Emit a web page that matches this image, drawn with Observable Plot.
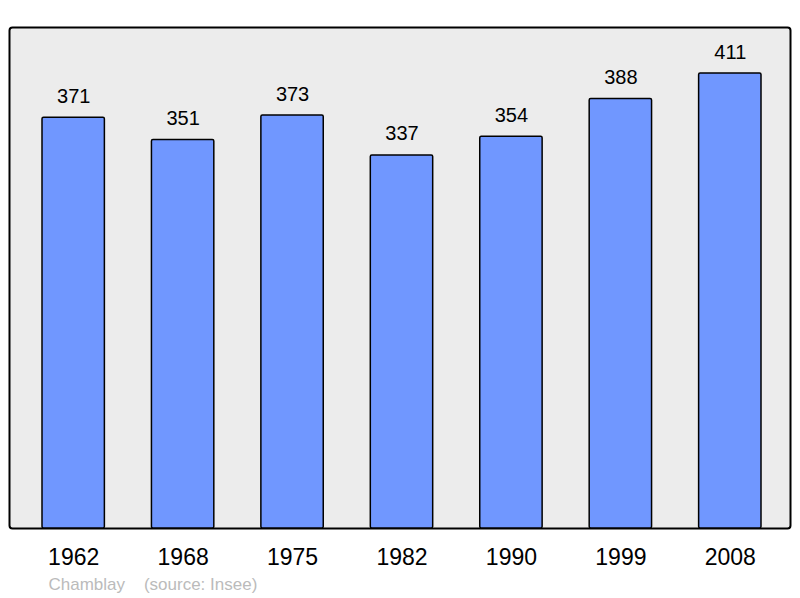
<!DOCTYPE html>
<html>
<head>
<meta charset="utf-8">
<script src="https://cdn.jsdelivr.net/npm/d3@7"></script>
<script src="https://cdn.jsdelivr.net/npm/@observablehq/plot@0.6"></script>
<style>
  html, body { margin: 0; padding: 0; background: #fff; }
  svg { display: block; }
</style>
</head>
<body>
<div id="chart"></div>
<script>
const years = ["1962", "1968", "1975", "1982", "1990", "1999", "2008"];
const population = [371, 351, 373, 337, 354, 388, 411];
const captionText = ["Chamblay    (source: Insee)"];

const data = years.map((y, i) => ({year: y, value: population[i]}));

const chart = Plot.plot({
  width: 800,
  height: 598,
  marginTop: 27,
  marginBottom: 70,
  marginLeft: 9,
  marginRight: 10,
  style: {fontFamily: "'Liberation Sans', Arial, sans-serif", background: "#fff"},
  x: {domain: years, range: [42, 761], round: false, paddingInner: 0.43, paddingOuter: 0, label: null},
  y: {domain: [0, 452.6], axis: null},
  marks: [
    Plot.frame({fill: "#ececec", stroke: "#000", strokeWidth: 2, rx: 3}),
    Plot.barY(data, {x: "year", y: "value", fill: "#7097ff", stroke: "#000", strokeWidth: 1.5, rx: 1.5}),
    Plot.text(data, {x: "year", y: "value", text: d => String(d.value), lineAnchor: "bottom", dy: -15, fontSize: 20, fill: "#000"}),
    Plot.axisX({tickSize: 0, tickPadding: 20, fontSize: 23, fill: "#000", label: null}),
    Plot.text(captionText, {text: d => d, frameAnchor: "bottom-left", textAnchor: "start", lineAnchor: "middle", dx: 39, dy: 56, fontSize: 17, fill: "#bbbbbb"})
  ]
});
document.getElementById("chart").append(chart);
</script>
</body>
</html>
